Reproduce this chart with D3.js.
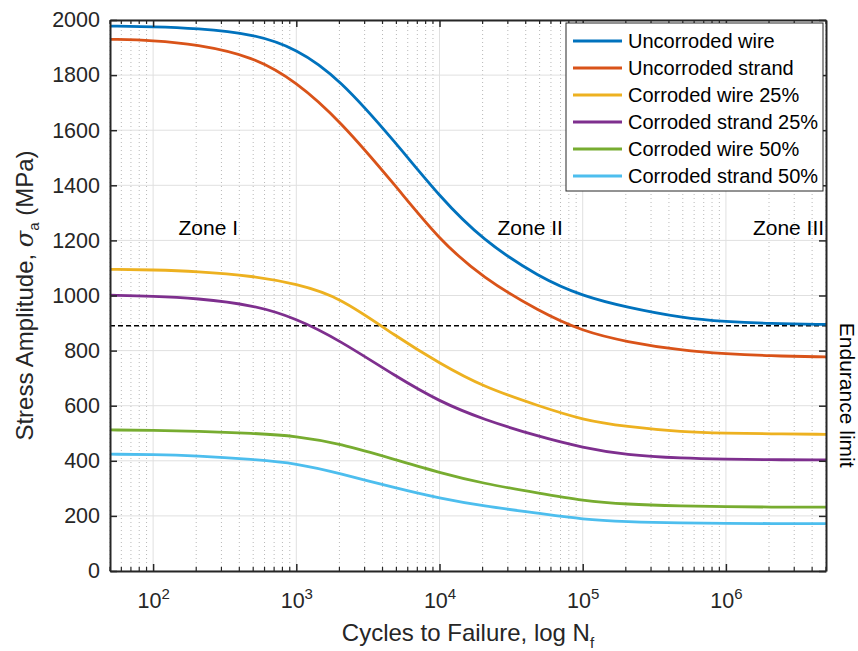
<!DOCTYPE html>
<html>
<head>
<meta charset="utf-8">
<script src="https://cdn.jsdelivr.net/npm/d3@7/dist/d3.min.js"></script>
<style>
  html, body { margin: 0; padding: 0; background: #fff; }
  svg { display: block; font-family: "Liberation Sans", Arial, Helvetica, sans-serif; }
</style>
</head>
<body>
<div id="chart"></div>
<script>
// cycles to failure (sample points)
const N_CYCLES = [50, 100, 200, 500, 1e3, 2e3, 5e3, 1e4, 2e4, 5e4, 1e5, 2e5, 5e5, 1e6, 2e6, 5e6]

// stress amplitude, MPa
const UNCORRODED_WIRE   = [1978, 1976, 1970, 1950, 1897, 1788, 1552, 1359, 1201, 1065, 998, 958, 918, 905, 898, 895]
const UNCORRODED_STRAND = [1930, 1926, 1912, 1868, 1776, 1637, 1395, 1201, 1065, 941, 870, 832, 800, 788, 781, 777]
const CORRODED_WIRE_25  = [1095, 1093, 1088, 1071, 1042, 996, 850, 754, 669, 598, 548, 524, 504, 500, 498, 496]
const CORRODED_STRAND_25 = [1001, 998, 990, 966, 917, 838, 705, 615, 551, 487, 448, 421, 409, 406, 404, 403]
const CORRODED_WIRE_50  = [512, 511, 508, 500, 490, 463, 403, 357, 318, 282, 255, 242, 236, 233, 232, 232]
const CORRODED_STRAND_50 = [424, 423, 418, 405, 391, 355, 300, 264, 236, 209, 187, 179, 174, 173, 172, 172]

const SERIES_NAMES = [
  "Uncorroded wire", "Uncorroded strand", "Corroded wire 25%",
  "Corroded strand 25%", "Corroded wire 50%", "Corroded strand 50%",
]
const SERIES_VALUES = [
  UNCORRODED_WIRE, UNCORRODED_STRAND, CORRODED_WIRE_25,
  CORRODED_STRAND_25, CORRODED_WIRE_50, CORRODED_STRAND_50,
]
const SERIES_COLORS = ["#0072BD", "#D95319", "#EDB120", "#7E2F8E", "#77AC30", "#4DBEEE"]

const ENDURANCE_LIMIT = 890
const X_DOMAIN = [50, 5e6]
const X_MAJOR = [1e2, 1e3, 1e4, 1e5, 1e6]
const Y_TICKS = [0, 200, 400, 600, 800, 1000, 1200, 1400, 1600, 1800, 2000]

const ZONE_LABELS = ["Zone I", "Zone II", "Zone III"]
const ZONE_AT = [243, 43000, 4.85e6]
const ZONE_Y = 1220

const W = 858, H = 651
const M = { top: 20, right: 32, bottom: 80, left: 110 }
const AX = "#262626"
const TICK_FONT = 21.5

const svg = d3.select("#chart").append("svg")
  .attr("width", W)
  .attr("height", H)

const x = d3.scaleLog().domain(X_DOMAIN).range([M.left, W - M.right])
const y = d3.scaleLinear().domain([0, 2000]).range([H - M.bottom, M.top])

const x0 = M.left, x1 = W - M.right, y0 = H - M.bottom, y1 = M.top

// minor positions on the log axis
const xMinor = x.ticks().filter(v => X_MAJOR.indexOf(v) < 0)

// grid
const grid = svg.append("g")
grid.selectAll("line.minor").data(xMinor).join("line")
  .attr("x1", d => x(d)).attr("x2", d => x(d))
  .attr("y1", y0).attr("y2", y1)
  .attr("stroke", "#b8b8b8")
  .attr("stroke-width", 1)
  .attr("stroke-dasharray", "1,3")
grid.selectAll("line.vx").data(X_MAJOR).join("line")
  .attr("x1", d => x(d)).attr("x2", d => x(d))
  .attr("y1", y0).attr("y2", y1)
  .attr("stroke", "#e0e0e0")
  .attr("stroke-width", 1)
grid.selectAll("line.hy").data(Y_TICKS).join("line")
  .attr("x1", x0).attr("x2", x1)
  .attr("y1", d => y(d)).attr("y2", d => y(d))
  .attr("stroke", "#e0e0e0")
  .attr("stroke-width", 1)

// clip for the curves
svg.append("defs").append("clipPath").attr("id", "plot")
  .append("rect").attr("x", x0).attr("y", y1).attr("width", x1 - x0).attr("height", y0 - y1)

const plot = svg.append("g").attr("clip-path", "url(#plot)")

// endurance limit
plot.append("line")
  .attr("x1", x0).attr("x2", x1)
  .attr("y1", y(ENDURANCE_LIMIT)).attr("y2", y(ENDURANCE_LIMIT))
  .attr("stroke", "#000")
  .attr("stroke-width", 1.4)
  .attr("stroke-dasharray", "5,3")

const line = d3.line()
  .x(d => x(d[0]))
  .y(d => y(d[1]))
  .curve(d3.curveBasis)

SERIES_VALUES.forEach((vals, i) => {
  plot.append("path")
    .datum(N_CYCLES.map((n, j) => [n, vals[j]]))
    .attr("fill", "none")
    .attr("stroke", SERIES_COLORS[i])
    .attr("stroke-width", 2.8)
    .attr("d", line)
})

// axes
const xb = svg.append("g").attr("transform", `translate(0,${y0})`)
  .call(d3.axisBottom(x).tickValues(X_MAJOR).tickSizeInner(-7).tickSizeOuter(0).tickFormat(""))
const xt = svg.append("g").attr("transform", `translate(0,${y1})`)
  .call(d3.axisTop(x).tickValues(X_MAJOR).tickSizeInner(-7).tickSizeOuter(0).tickFormat(""))
const yl = svg.append("g").attr("transform", `translate(${x0},0)`)
  .call(d3.axisLeft(y).tickValues(Y_TICKS).tickSizeInner(-7).tickSizeOuter(0).tickPadding(10).tickFormat(d3.format("d")))
const yr = svg.append("g").attr("transform", `translate(${x1},0)`)
  .call(d3.axisRight(y).tickValues(Y_TICKS).tickSizeInner(-7).tickSizeOuter(0).tickFormat(""))

;[xb, xt, yl, yr].forEach(a => {
  a.select(".domain").attr("stroke", AX).attr("stroke-width", 2)
  a.selectAll(".tick line").attr("stroke", AX).attr("stroke-width", 1.5)
  a.selectAll(".tick text").attr("fill", AX).attr("font-size", TICK_FONT)
    .attr("font-family", "'Liberation Sans', Arial, sans-serif")
})

// minor ticks on both x spines
;[[y0, -4], [y1, 4]].forEach(([yy, len]) => {
  svg.append("g").selectAll("line").data(xMinor).join("line")
    .attr("x1", d => x(d)).attr("x2", d => x(d))
    .attr("y1", yy).attr("y2", yy + len)
    .attr("stroke", AX).attr("stroke-width", 1.2)
})

// 10^n labels
xb.selectAll(".tick text").each(function(d) {
  const t = d3.select(this).attr("dy", null).attr("y", 37)
  t.append("tspan").text("10")
  t.append("tspan").attr("dy", -9).attr("font-size", 15).text(Math.round(Math.log10(d)))
})

// axis titles
const xl = svg.append("text")
  .attr("x", (x0 + x1) / 2).attr("y", 641)
  .attr("text-anchor", "middle").attr("fill", AX).attr("font-size", 24)
xl.append("tspan").text("Cycles to Failure, log N")
xl.append("tspan").attr("dy", 7).attr("font-size", 15).text("f")

const ylab = svg.append("text")
  .attr("transform", `translate(33,${(y0 + y1) / 2}) rotate(-90)`)
  .attr("text-anchor", "middle").attr("fill", AX).attr("font-size", 24)
ylab.append("tspan").text("Stress Amplitude, ")
ylab.append("tspan").attr("font-style", "italic").attr("font-family", "'DejaVu Serif', serif").text("σ")
ylab.append("tspan").attr("dy", 6).attr("font-size", 15).text("a")
ylab.append("tspan").attr("dy", -6).text(" (MPa)")

// endurance limit label on the right
svg.append("text")
  .attr("transform", `translate(840,${y(ENDURANCE_LIMIT) - 3}) rotate(90)`)
  .attr("fill", "#000").attr("font-size", 21)
  .text("Endurance limit")

// zone labels
ZONE_LABELS.forEach((lab, i) => {
  svg.append("text")
    .attr("x", x(ZONE_AT[i])).attr("y", y(ZONE_Y))
    .attr("text-anchor", i === 2 ? "end" : "middle")
    .attr("fill", "#000").attr("font-size", 21)
    .text(lab)
})

// legend
const lg = svg.append("g").attr("transform", "translate(566,23)")
lg.append("rect")
  .attr("width", 257).attr("height", 168)
  .attr("fill", "#fff").attr("stroke", AX).attr("stroke-width", 1)
SERIES_NAMES.forEach((name, i) => {
  const row = lg.append("g").attr("transform", `translate(0,${18 + i * 27})`)
  row.append("line").attr("x1", 7).attr("x2", 56)
    .attr("stroke", SERIES_COLORS[i]).attr("stroke-width", 2.8)
  row.append("text").attr("x", 62).attr("y", 7)
    .attr("fill", "#000").attr("font-size", 20).text(name)
})
</script>
</body>
</html>
